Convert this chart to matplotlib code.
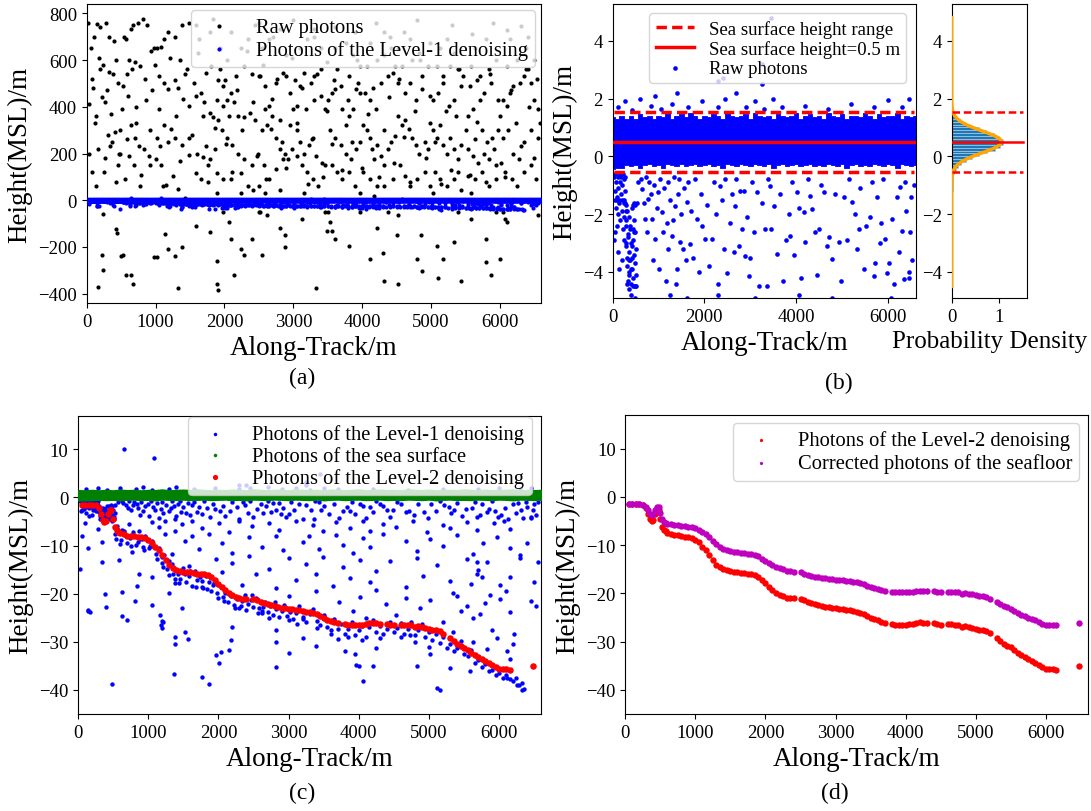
import numpy as np
import matplotlib
matplotlib.use("Agg")
import matplotlib.pyplot as plt

plt.rcParams['font.family'] = ['Liberation Serif', 'DejaVu Serif']
plt.rcParams['axes.unicode_minus'] = True

# ---------------- (a) raw photons (black) ----------------
raw_x = [
    20,60,110,150,190,240,280,330,380,430, 40,90,140,200,260,310,360,410,460,490, 30,80,130,170,220,270,320,370,420,470, 230,420,240,160,500,225,440,
    540,570,645,670,745,820,870,620,695,770, 975,520,595,720,490,920,1000,640,700,560, 610,760,830,900,950,680,590,850,940,780, 520,570,645,670,975,720,
    1025,1075,1125,1175,1280,1380,1480,1050,1125,1175, 1280,1330,1405,1480,1050,1125,1225,1280,1380,1480, 1075,1150,1250,1330,1430,1480,1025,1175,1350,1450, 1130,1175,1280,1330,1380,1020,
    1580,1660,1685,1785,1835,1885,1985,1605,1685,1735, 1785,1860,1910,1960,1580,1660,1760,1885,1985,1555, 1735,1810,1910,1985,1630,1785,1580,1835,1935,1885, 1580,1785,1885,1895,1905,1985,
    2040,2090,2140,2065,2190,2290,2370,2445,2040,2115, 2190,2290,2395,2470,2240,2340,2420,2090,2010,2165, 2290,2395,2495,2240,2340,2090,2445,2040,2240,2495, 2065,2090,2240,2290,2395,2495,2140,
    2520,2595,2645,2695,2750,2850,2900,2950,2545,2620, 2670,2750,2800,2875,2925,2975,2570,2645,2750,2850, 2595,2800,2950,3000,2545,2645,2800,2900,2595,2800, 2520,2545,2620,2875,2875,2800,
    3025,3100,3155,3255,3305,3405,3485,3050,3100,3155, 3230,3280,3330,3050,3130,3205,3280,3355,3430,3050, 3180,3305,3405,3460,3100,3205,3305,3405,3155,3460, 3130,3330,3460,3485,
    3510,3560,3610,3710,3760,3815,3865,3915,3965,3535, 3610,3685,3760,3840,3915,3965,3560,3635,3710,3815, 3890,3965,3585,3685,3815,3940,3610,3760,3865,3965, 3510,3535,3560,3610,3815,3965,
    4015,4065,4115,4140,4170,4220,4270,4320,4370,4420, 4470,4015,4115,4220,4320,4445,4040,4115,4195,4270, 4370,4445,4065,4220,4320,4470,4115,4320,4420,4170, 4115,4220,4295,4320,4370,
    4525,4575,4625,4675,4725,4775,4825,4905,4955,4525, 4625,4700,4775,4875,4980,4550,4625,4700,4800,4905, 4980,4575,4725,4875,4955,4525,4700,4825,4980,4575, 4525,4500,4800,4850,4875,4525,
    5030,5080,5130,5180,5230,5280,5330,5385,5435,5030, 5105,5180,5255,5330,5435,5055,5130,5230,5330,5435, 5080,5180,5280,5385,5460,5130,5230,5330,5030,5385, 5080,5105,5180,5330,5435,5385,
    5535,5610,5660,5735,5815,5890,5965,5535,5610,5685, 5765,5840,5940,5535,5635,5735,5840,5940,5560,5660, 5765,5865,5965,5585,5710,5840,5940,5635,5790,5585, 5790,5790,5865,5585,5940,
    6045,6095,6145,6195,6295,6350,6400,6450,6500,6550, 6045,6120,6195,6270,6350,6450,6550,6070,6170,6245, 6350,6450,6525,6095,6245,6375,6500,6145,6400,6010, 6045,6070,6095,5995,6550,
    2500,3000,3600,4200,4800,5300,5900,6300,2700,4600,5600,6100,3300,3900,4400,
]
raw_y = [
    760,650,700,755,740,580,760,700,540,600, 410,480,360,560,420,280,370,290,500,300, 200,120,60,220,440,180,550,250,80,200, -60,-125,-300,-370,-240,-235,-140,
    700,690,735,750,760,775,750,600,590,575, 650,490,445,400,200,150,175,320,265,90, 190,230,220,190,470,150,540,520,640,60, -235,-320,-320,-360,-245,-20,
    650,655,690,720,700,750,760,530,500,475, 515,480,435,405,390,320,305,265,235,195, 150,65,105,50,10,265,265,250,600,560, -145,-210,-240,-375,-200,-245,
    445,460,360,375,355,430,405,200,185,230, 175,220,345,300,115,90,150,115,90,500, 545,575,515,490,690,720,750,775,650,30, -110,-135,-260,-360,-385,-50,
    430,460,420,360,360,355,375,345,265,235, 200,175,150,190,115,60,45,90,515,530, 575,540,530,650,690,720,750,600,30,60, -95,-165,-210,-235,-165,-50,-320,
    530,490,405,435,500,545,530,460,300,320, 305,265,220,200,175,220,150,90,135,175, 390,345,320,390,650,690,735,620,30,45, -50,-235,-65,-150,-200,-120,
    515,490,545,500,530,560,590,300,250,200, 235,265,190,190,150,120,90,60,100,405, 390,430,445,390,650,690,735,650,30,150, -80,-375,-50,-130,
    430,460,475,390,320,360,390,475,460,300, 265,235,200,175,220,250,150,120,90,120, 60,30,515,490,530,500,650,675,620,575, -50,-95,-130,-165,-195,-50,
    320,300,265,220,175,235,190,150,220,250, 275,120,90,60,60,90,460,430,390,500, 530,545,575,600,620,575,675,720,650,20, -250,-120,-225,-345,-50,
    360,320,345,305,265,235,200,250,220,500, 460,500,430,475,445,150,105,60,90,120, 60,575,600,530,575,650,690,630,675,5, -65,-150,-250,-150,-305,-360,
    300,265,320,235,200,265,220,175,235,430, 460,500,405,430,490,120,90,60,90,45, 575,530,575,560,530,650,690,630,30,120, -195,-335,-250,-180,-345,-50,
    360,390,335,300,250,265,300,220,190,160, 200,175,150,105,90,120,60,90,490,515, 460,500,430,575,530,560,600,650,690,30, -165,-265,-320,-80,-50,
    430,405,460,490,500,530,560,500,430,390, 265,300,200,175,250,300,265,120,90,60, 120,150,90,575,600,650,600,690,700,160, -50,-80,-95,-250,-65,
    760,770,740,760,770,750,760,745,700,720,710,730,700,720,700,
]
raw2_x = [70,115,185,255,300,345,400,455,515,585, 655,710,790,860,915,990,1060,1110,1210,1300,
          1360,1420,1530,1610,1700,1760,1860,1930,2020,2110, 2180,2260,2330,2410,2480,2560,2610,2690,2770,2830,
          2890,2980,3060,3120,3210,3270,3340,3420,3490,3560, 3640,3700,3790,3850,3930,4000,4090,4160,4240,4310,
          4390,4460,4540,4610,4690,4760,4840,4920,4990,5060, 5150,5210,5290,5360,5410,5500,5560,5640,5710,5790,
          5860,5920,6000,6080,6160,6230,6310,6380,6420,6490, 6540,6580]
raw2_y = [520,330,610,120,470,230,680,150,390,260, 560,330,110,430,300,580,230,60,610,360,
          170,540,280,630,420,80,310,560,240,120, 470,300,640,420,200,580,90,360,520,250,
          140,610,330,480,70,260,540,160,380,240, 560,130,430,250,600,140,370,480,100,300,
          440,160,520,270,80,380,600,180,330,250, 70,380,130,360,560,300,110,260,430,80,
          540,220,360,100,470,330,230,560,400,180, 520,330]

# ---------------- sea-surface photon band (envelope) ----------------
surf_x = [0,100,200,300,400,500,600,700,800,900,
          1000,1100,1200,1300,1400,1500,1600,1700,1800,1900,
          2000,2100,2200,2300,2400,2500,2600,2700,2800,2900,
          3000,3100,3200,3300,3400,3500,3600,3700,3800,3900,
          4000,4100,4200,4300,4400,4500,4600,4700,4800,4900,
          5000,5100,5200,5300,5400,5500,5600,5700,5800,5900,
          6000,6100,6200,6300,6400,6500,6600]
surf_top = [1.35,1.30,1.40,1.30,1.40,1.30,1.45,1.35,1.40,1.30,
            1.40,1.35,1.50,1.30,1.40,1.45,1.35,1.50,1.40,1.30,
            1.40,1.35,1.45,1.40,1.30,1.50,1.40,1.35,1.40,1.45,
            1.30,1.50,1.40,1.35,1.40,1.30,1.45,1.40,1.35,1.40,
            1.50,1.30,1.40,1.45,1.35,1.40,1.30,1.50,1.40,1.35,
            1.45,1.30,1.40,1.40,1.35,1.50,1.40,1.30,1.45,1.35,
            1.40,1.40,1.50,1.30,1.40,1.35,1.40]
surf_bot = [-0.45,-0.40,-0.40,-0.30,-0.35,-0.30,-0.40,-0.30,-0.25,-0.35,
            -0.30,-0.40,-0.25,-0.30,-0.35,-0.25,-0.35,-0.30,-0.25,-0.35,
            -0.30,-0.25,-0.35,-0.30,-0.40,-0.25,-0.30,-0.35,-0.25,-0.30,
            -0.35,-0.25,-0.30,-0.35,-0.25,-0.40,-0.30,-0.25,-0.35,-0.30,
            -0.25,-0.35,-0.30,-0.25,-0.35,-0.30,-0.35,-0.25,-0.30,-0.35,
            -0.25,-0.40,-0.30,-0.25,-0.35,-0.30,-0.35,-0.25,-0.30,-0.35,
            -0.25,-0.30,-0.40,-0.25,-0.30,-0.35,-0.30]

# ---------------- Level-1 noise photons (blue) ----------------
shallow_x = [563,636,709,782,854,927,1000,1072,1181,1218, 1290,1363,1400,1472,1545,1618,1690,1763,1836,1945,
             2018,2163,2345,2418,2490,2600,2672,2745,2781,2890, 2926,2963,3035,3144,3326,3363,3435,3508,3581,3835,
             3872,3908,4017,4053,4162,4199,4308,4344,4489,4598, 4671,4780,4925,5034,5216,5288,5361,5470,5616,5689,
             5761,5856,5943,5979,6088,6197,6234,6270,6307,6343]
shallow_y = [-0.90,-1.13,-2.17,-1.48,-2.17,-2.86,-1.25,-1.94,-2.29,-3.21, -2.75,-1.71,-3.90,-2.98,-3.21,-1.59,-3.04,-3.50,-2.17,-2.40,
             -2.86,-2.86,-1.02,-3.21,-4.02,-1.31,-1.71,-3.09,-1.19,-3.44, -2.11,-4.13,-0.90,-1.25,-2.52,-4.48,-1.02,-1.71,-3.38,-2.00,
             -2.75,-0.90,-1.25,-1.77,-1.94,-2.98,-1.36,-1.82,-2.52,-1.25, -3.09,-3.55,-2.98,-1.42,-1.59,-2.00,-2.52,-3.90,-2.11,-4.13,
             -1.42,-2.29,-2.86,-4.02,-2.17,-1.42,-3.32,-1.07,-2.57,-4.25]
shallow2_x = [620,680,720,760,800,840,880,900,960,1010, 1040,1100,1130,1160,1200,1250,1320,1340,1380,1420,
              1450,1500,1560,1600,1650,1720,1800,1880,1920,2060, 2100,2200,2260,2300,2380,2450,2550,2640,2700,2820,
              2860,3000,3080,3200,3250,3380,3460,3650,3720,3780, 3950,4100,4250,4400,4450,4550,4720,4850,4980,5100,
              5150,5320,5400,5530,5650,5720,5820,5900,6020,6130, 6400,6450,6500,6530,6560,6480,6380]
shallow2_y = [-0.8,-1.6,-0.7,-2.6,-0.9,-1.3,-3.6,-1.0,-1.8,-3.9, -0.8,-2.6,-1.1,-4.3,-0.9,-1.5,-2.2,-0.7,-4.4,-1.3,
              -0.8,-2.0,-1.1,-3.6,-0.9,-1.9,-0.8,-4.0,-1.3,-1.7, -3.8,-0.9,-2.0,-4.4,-1.5,-0.8,-2.3,-3.3,-0.8,-2.5,
              -1.2,-3.5,-2.6,-4.5,-1.6,-0.8,-2.5,-1.3,-4.3,-2.9, -3.4,-4.2,-0.8,-2.6,-4.1,-1.0,-2.8,-1.3,-4.3,-2.9,
              -0.8,-3.2,-1.1,-2.4,-0.9,-3.7,-3.0,-0.8,-3.7,-4.4, -1.9,-4.2,-1.4,-3.6,-1.0,-2.6,-0.9]
left_x = [30,50,60,70,80,90,100,110,120,130, 140,150,160,170,180,190,200,210,220,230,
          240,250,260,270,280,290,40,110,150,200, 60,250]
left_y = [-0.7,-1.2,-0.6,-1.8,-0.9,-2.4,-1.4,-0.7,-2.0,-1.1, -0.6,-1.6,-2.2,-0.9,-1.3,-0.7,-1.9,-1.0,-2.5,-0.6,
          -1.5,-0.8,-2.1,-1.2,-0.7,-1.7,-2.9,-3.3,-3.9,-3.6, -2.6,-2.9]
column_x = [280,290,300,310,320,330,340,350,360,370, 380,390,400,410,420,430,440,450,460,470,
            480,490,500,510,520,290,310,330,350,370, 390,410,430,450,470,490,510,530,300,440]
column_y = [-1.6,-2.4,-3.1,-1.9,-3.8,-2.7,-4.3,-3.3,-2.1,-4.0, -3.6,-2.5,-4.4,-3.0,-1.8,-3.9,-2.9,-4.2,-3.4,-2.2,
            -4.5,-3.7,-2.6,-4.1,-3.2,-1.9,-4.4,-2.8,-3.6,-4.1, -2.4,-3.9,-3.1,-4.5,-1.6,-1.7,-4.5,-1.6,-3.0,-1.7]
above_x = [120,280,420,600,830,920,1050,1290,1400,1650, 1950,2300,2450,2700,2900,3100,3300,3500,3700,4200,
           4700,5200,5700,6000,6300,6450,2400,3250,3250,3450, 650,1080,2300]
above_y = [1.7,1.9,1.6,2.0,1.75,2.1,1.65,1.8,2.2,1.7, 1.9,1.7,2.0,2.2,1.7,1.9,1.65,2.0,1.7,1.75,
           1.65,1.8,1.7,1.95,1.7,2.0,2.7,3.2,2.5,4.8, 10.0,8.2,2.6]
deep_x = [29,148,172,482,339,396,625,696,840,863, 1054,1173,1207,1188,1388,1364,1569,1770,1865,1960,
          2032,2199,2175,2819,2819,
          100,291,482,625,720,863,1054,1150,1245,1388, 1484,1627,1770,2008,2151,2294,2485,2723,2866,3105,
          3343,3486,3677,3868,4059,4154,4345,4536,4775,4966, 5204,5300,5538,5681,5920,6063,6159,
          52,148,339,673,768,911,1054,1245,1340,1531, 1627,1722,1865,2056,2199,2437,2628,2819,2914,3200,
          3296,3439,3677,3773,3916,4059,4154,4345,4679,4823, 5013,5204,5395,5633,5776,5967,6158,6301,
          577,1054,1197,1388,1579,1770,1960,2056,2199,2342, 2437,2533,2723,2819,3010,3105,3248,3391,3486,3630,
          3773,3868,4011,4154,4250,4441,4679,4823,4918,5109, 5300,5538,5681,5824,6015,6158,
          148,386,625,816,1197,1293,1484,2628,3010,3200, 3391,3725,3916,4011,4107,4250,4393,4536,4679,4870,
          5013,5204,5347,5538,5729,5872,6015,6158,
          1197,1388,1531,2151,2819,3010,3200,3391,4250,4727, 5013,5347,5633,5824,5967,6110,6205,
          2008,3964,4059,4823,5109,5586,6110,6254,
          5150,4000,4200,3800,3950,5300,5630,5800,5900,6450, 6500,6550,6530,6200,6150,6100,6300,6400,6450,5690,
          5700,5750,5600,5400,5450]
deep_y = [-14.8,-23.5,-23.8,-38.7,-13.4,-22.8,-19.7,-25.5,-18.3,-15.8, -22.4,-24.5,-25.9,-26.6,-29.0,-36.6,-29.4,-37.3,-38.7,-32.8,
          -32.1,-26.9,-29.7,-30.0,-35.2,
          -5.2,-6.5,-4.9,-6.8,-5.5,-7.0,-5.0,-6.2,-4.8,-6.9, -5.6,-4.9,-6.4,-5.3,-7.1,-4.8,-6.0,-5.4,-6.7,-4.9,
          -5.8,-7.0,-5.1,-6.3,-4.8,-6.9,-5.5,-6.1,-4.9,-7.2, -5.7,-6.4,-5.0,-6.8,-5.3,-4.9,-6.6,
          -8.0,-10.5,-9.2,-7.8,-11.3,-8.6,-10.0,-7.5,-11.8,-9.0, -8.1,-10.7,-7.6,-9.5,-11.5,-8.3,-10.2,-7.9,-11.0,-9.3,
          -8.0,-10.8,-7.7,-9.9,-11.6,-8.4,-10.3,-7.5,-9.1,-11.2, -8.7,-10.0,-7.8,-11.7,-9.4,-8.2,-10.6,-12.0,
          -13.0,-16.5,-12.4,-17.8,-14.2,-18.6,-12.8,-15.5,-13.6,-18.2, -12.2,-16.0,-14.8,-18.9,-12.6,-17.1,-13.9,-15.8,-12.3,-18.4,
          -14.5,-16.8,-12.9,-17.6,-15.2,-13.3,-18.7,-12.5,-16.3,-14.0, -17.4,-12.7,-15.9,-13.5,-18.1,-16.6,
          -23.3,-20.1,-24.7,-21.5,-25.6,-19.8,-22.9,-24.1,-20.4,-25.3, -19.5,-21.8,-23.6,-20.7,-25.0,-19.3,-22.2,-24.5,-20.9,-23.0,
          -21.3,-25.8,-19.9,-22.6,-24.2,-20.3,-21.1,-23.8,
          -27.2,-30.5,-28.0,-31.7,-27.6,-32.4,-29.1,-30.8,-31.2,-28.6, -32.6,-27.9,-30.0,-31.5,-29.3,-32.0,-28.4,
          -34.5,-34.8,-38.2,-35.0,-39.5,-36.0,-37.5,-39.0,
          -40.0,-35.0,-35.0,-32.0,-32.5,-35.5,-25.0,-22.0,-27.5,-21.5, -17.5,-13.5,-22.5,-30.5,-33.5,-19.5,-12.5,-9.5,-4.0,-13.5,
          -15.0,-16.5,-18.0,-20.5,-23.5]
near_x = [520,560,610,650,700,740,790,830,880,920, 960,1010,1060,1110,1150,1190,1230,1270,1300,1340,
          1380,1420,1460,1500,1540,1580,1620,1660,1700,1740, 1780,1820,1860,1900,1940,1980,2020,2060,2100,2140,
          2180,2220,2260,2300,2340,2380,2420,2460,2500,2540, 2580,2620,2660,2700,2740,2780,2820,2860,2900,2940,
          2980,3020,3060,3100,3150,3200,3250,3300,3350,3400, 3450,3500,3550,3600,3650,3700,3750,3800,3850,3900,
          3950,4000,4050,4100,4150,4200,4250,4300,4350,4400, 4450,4500,4550,4600,4650,4700,4750,4800,4850,4900,
          4950,5000,5050,5100,5150,5200,5250,5300,5350,5400, 5450,5500,5550,5600,5650,5700,5750,5800,5850,5900,
          5950,6000,6050,6100,6150,6200,6240,6280,6320,6350, 6330,
          540,600,680,760,850,940,1030,1120,1210,1290, 1360,1440,1520,1600,1680,1760,1840,1920,2000,2080,
          2160,2240,2320,2400,2480,2560,2640,2720,2800,3000, 3120,3400,3600,3700,3850,4050,4300,4600,4800,5000]
near_y = [-7.5,-6.0,-8.8,-7.0,-9.5,-8.4,-7.2,-9.9,-8.6,-10.2, -8.0,-10.6,-9.0,-11.8,-10.4,-13.6,-12.0,-14.8,-16.2,-13.9,
          -17.0,-15.8,-16.9,-14.7,-17.5,-16.4,-18.3,-15.2,-17.1,-16.6, -18.8,-16.3,-17.6,-19.4,-17.8,-19.9,-18.4,-20.6,-19.8,-21.7,
          -20.5,-22.4,-21.2,-22.9,-21.6,-20.3,-22.2,-21.4,-22.8,-20.9, -22.9,-23.6,-21.7,-23.9,-22.6,-24.4,-23.2,-24.9,-23.5,-22.3,
          -24.6,-23.9,-25.3,-24.1,-22.6,-24.8,-25.9,-24.3,-23.1,-25.6, -26.4,-24.4,-26.9,-27.6,-25.2,-27.4,-26.2,-28.3,-27.3,-25.8,
          -28.6,-27.5,-26.8,-28.9,-27.0,-25.5,-27.9,-26.7,-28.4,-27.3, -25.8,-28.0,-27.1,-26.0,-28.3,-27.4,-25.9,-28.6,-27.6,-26.3,
          -28.9,-27.9,-29.6,-28.4,-30.3,-29.0,-31.2,-30.4,-32.0,-31.3, -29.8,-32.6,-33.0,-31.6,-34.3,-33.8,-35.2,-34.6,-36.0,-35.8,
          -36.9,-36.4,-37.5,-36.9,-37.8,-38.2,-37.6,-39.0,-38.6,-39.8, -40.0,
          -8.6,-9.6,-8.1,-10.1,-9.3,-11.0,-10.0,-12.8,-14.4,-13.3, -15.9,-17.7,-16.0,-15.3,-18.5,-17.4,-19.0,-18.2,-20.8,-21.5,
          -20.2,-23.0,-22.6,-23.4,-20.2,-24.0,-22.7,-25.0,-21.8,-25.5, -26.3,-27.2,-28.4,-29.4,-29.0,-29.6,-29.3,-29.0,-30.0,-31.0]

# ---------------- Level-2 seafloor photons and corrected seafloor ----------------
l2_x = [50,100,150,200,250,300,
        325,350,375,400,425,450,475,500,525,550,575,600,
        650,700,750,800,850,900,950,1000,1050,1100,1150,1200,1250,1300,1350,1400,1450,1500,
        1550,1600,1650,1700,1750,1800,1850,1900,1950,2000,2050,2100,2150,2200,2250,2300,2350,2400,
        2500,2550,2600,2650,2700,2750,2800,2850,2900,2950,3000,3050,3100,3150,3200,3250,3300,3350,
        3400,3450,3500,3550,3600,3650,3700,
        3800,3850,3900,3950,4000,4050,4100,4150,4200,4250,4300,
        4400,4450,4500,
        4600,4650,4700,4750,4800,4850,4900,4950,5000,5050,5100,5150,5200,
        5300,5350,5400,5450,5500,5550,5600,5650,5700,5750,5800,5850,5900,5950,6000,6050,6100,6150,
        6475]
l2_y = [-1.5,-1.5,-1.5,-1.5,-1.6,-2.2,
        -3.5,-4.6,-5.0,-4.8,-3.5,-2.5,-2.6,-4.5,-6.2,-6.8,-7.1,-7.4,
        -7.6,-7.9,-7.9,-8.1,-8.2,-8.3,-8.5,-8.9,-9.4,-10.3,-11.0,-12.0,-13.0,-14.0,-14.6,-15.0,-15.2,-15.4,
        -15.5,-15.5,-15.7,-15.8,-15.9,-16.0,-16.1,-16.5,-17.2,-17.9,-18.6,-19.3,-19.9,-20.3,-20.6,-20.9,-21.0,-21.0,
        -21.1,-21.4,-21.8,-22.0,-22.2,-22.4,-22.6,-22.8,-22.9,-23.0,-23.1,-23.2,-23.3,-23.4,-23.5,-23.7,-23.8,-24.0,
        -24.3,-24.7,-25.1,-25.4,-25.6,-25.9,-26.1,
        -26.3,-26.5,-26.6,-26.6,-26.5,-26.4,-26.3,-26.1,-26.0,-26.1,-26.2,
        -26.2,-26.4,-26.5,
        -26.4,-26.4,-26.5,-26.6,-26.9,-26.8,-27.0,-27.1,-27.4,-27.6,-27.6,-27.8,-28.3,
        -29.2,-29.8,-30.4,-30.8,-31.2,-31.8,-32.3,-32.8,-33.2,-33.6,-34.0,-34.4,-34.9,-35.3,-35.7,-35.6,-35.6,-35.8,
        -35.1]
corr_y = [-1.5,-1.5,-1.5,-1.5,-1.6,-2.0,
          -2.8,-3.5,-3.7,-3.5,-2.6,-2.0,-2.1,-3.4,-4.6,-5.1,-5.3,-5.5,
          -5.7,-5.9,-5.9,-6.0,-6.1,-6.2,-6.3,-6.5,-6.8,-7.2,-7.6,-8.3,-9.2,-9.8,-10.3,-10.7,-11.0,-11.3,
          -11.5,-11.5,-11.6,-11.7,-11.8,-11.9,-12.0,-12.3,-12.8,-13.2,-13.7,-14.1,-14.5,-14.8,-15.0,-15.3,-15.4,-15.5,
          -15.6,-15.9,-16.2,-16.3,-16.5,-16.6,-16.8,-16.9,-17.0,-17.1,-17.2,-17.2,-17.3,-17.4,-17.5,-17.6,-17.7,-17.9,
          -18.1,-18.4,-18.7,-18.9,-19.1,-19.3,-19.4,
          -19.6,-19.8,-19.8,-19.8,-19.7,-19.7,-19.6,-19.5,-19.4,-19.5,-19.5,
          -19.5,-19.7,-19.8,
          -19.7,-19.7,-19.7,-19.8,-20.1,-20.0,-20.2,-20.2,-20.4,-20.6,-20.6,-20.7,-21.1,
          -21.7,-22.2,-22.6,-22.9,-23.2,-23.7,-24.0,-24.4,-24.7,-25.0,-25.3,-25.6,-26.0,-26.3,-26.6,-26.5,-26.5,-26.6,
          -26.2]

# ---------------- (b) sea level, histogram, fitted density ----------------
sea_level = 0.5
range_top = 1.55
range_bot = -0.55
hist_y = [-1.95,-1.85,-1.75,-1.65,-1.55,-1.45,-1.35,-1.25,-1.15,-1.05,-0.95,-0.85,-0.75,-0.65,
          -0.55,-0.45,-0.35,-0.25,-0.15,-0.05,0.05,0.15,0.25,0.35,0.45,0.55,0.65,0.75,0.85,0.95,
          1.05,1.15,1.25,1.35,1.45,1.55]
hist_d = [0.01,0.01,0.01,0.01,0.015,0.01,0.015,0.015,0.02,0.02,0.02,0.025,0.03,0.035,
          0.05,0.08,0.13,0.20,0.30,0.43,0.58,0.75,0.90,1.02,1.08,1.07,1.00,0.88,0.73,0.57,
          0.41,0.28,0.17,0.10,0.05,0.025]
curve_y = [-4.5,-3.0,-2.0,-1.5,-1.0,-0.8,-0.6,-0.5,-0.4,-0.3,-0.2,-0.1,0.0,0.1,0.2,0.3,0.4,0.5,
           0.6,0.7,0.8,0.9,1.0,1.1,1.2,1.3,1.4,1.5,1.6,1.8,2.0,3.0,4.0,4.8]
curve_d = [0,0,0,0,0.0004,0.002,0.016,0.033,0.064,0.115,0.193,0.302,0.442,0.603,0.769,0.914,1.014,1.05,
           1.014,0.914,0.769,0.603,0.442,0.302,0.193,0.115,0.064,0.033,0.016,0.002,0.0004,0,0,0]

# ================== figure ==================
TICK = 13.5
LAB = 19.5
LEG = 14.8
W, H = 1091, 812
fig = plt.figure(figsize=(W / 100, H / 100), dpi=100)


def rect(l, t, r, b):
    return [l / W, 1 - b / H, (r - l) / W, (b - t) / H]


axA = fig.add_axes(rect(86.7, 5, 541.3, 304))
axB = fig.add_axes(rect(612.5, 5, 915.6, 299))
axH = fig.add_axes(rect(951.7, 5, 1026.7, 299))
axC = fig.add_axes(rect(78, 416.7, 541.3, 715))
axD = fig.add_axes(rect(625.4, 416, 1087.7, 715))

l1_x = np.concatenate([shallow_x, shallow2_x, left_x, column_x, above_x, deep_x, near_x])
l1_y = np.concatenate([shallow_y, shallow2_y, left_y, column_y, above_y, deep_y, near_y])

BLUE = '#0000ff'
XMAX = 6600

# ---- (a)
axA.scatter(np.concatenate([raw_x, raw2_x]), np.concatenate([raw_y, raw2_y]),
            s=9, c='black', linewidths=0, label='Raw photons', zorder=2)
axA.fill_between(surf_x, surf_bot, surf_top, color=BLUE, lw=4, zorder=3)
axA.scatter(l1_x, l1_y, s=9, c=BLUE, linewidths=0, zorder=3, label='Photons of the Level-1 denoising')
axA.scatter(l2_x, l2_y, s=9, c=BLUE, linewidths=0, zorder=3)
axA.set_xlim(0, XMAX)
axA.set_ylim(-440, 840)
axA.set_yticks([-400, -200, 0, 200, 400, 600, 800])
axA.set_xticks([0, 1000, 2000, 3000, 4000, 5000, 6000])
axA.legend(loc='upper right', fontsize=LEG, scatterpoints=1, framealpha=0.8,
           labelspacing=0.15, borderpad=0.35, borderaxespad=0.3)

# ---- (b)
x0, x1 = min(l1_x), max(l1_x)
axB.fill_between(surf_x, surf_bot, surf_top, step='mid', color=BLUE, lw=0.6, zorder=2)
hr = axB.scatter(l1_x, l1_y, s=11, c=BLUE, linewidths=0, zorder=2, label='Raw photons')
axB.scatter(l2_x, l2_y, s=11, c=BLUE, linewidths=0, zorder=2)
hd, = axB.plot([x0, x1], [range_top, range_top], color='red', lw=2.5, ls=(0, (3, 1.5)), zorder=4,
               label='Sea surface height range')
axB.plot([x0, x1], [range_bot, range_bot], color='red', lw=2.5, ls=(0, (3, 1.5)), zorder=4)
hs, = axB.plot([x0, x1], [sea_level, sea_level], color='red', lw=2.5, zorder=4,
               label='Sea surface height=0.5 m')
axB.set_xlim(0, XMAX)
axB.set_ylim(-4.9, 5.27)
axB.set_yticks([-4, -2, 0, 2, 4])
axB.set_xticks([0, 2000, 4000, 6000])
axB.legend(handles=[hd, hs, hr], loc='upper right', fontsize=13.5, scatterpoints=1, framealpha=0.8,
           labelspacing=0.1, borderpad=0.35)

axH.barh(hist_y, hist_d, height=0.1, color='#1f77b4', edgecolor='#b8d4ee', linewidth=0.4, zorder=2)
axH.plot(curve_d, curve_y, color='orange', lw=2.5, zorder=3)
axH.plot([0, 1.5], [range_top, range_top], color='red', lw=1.8, ls=(0, (3, 1.5)), zorder=4)
axH.plot([0, 1.5], [range_bot, range_bot], color='red', lw=1.8, ls=(0, (3, 1.5)), zorder=4)
axH.plot([0, 1.5], [sea_level, sea_level], color='red', lw=1.8, zorder=4)
axH.set_xlim(0, 1.575)
axH.set_ylim(-4.9, 5.27)
axH.set_yticks([-4, -2, 0, 2, 4])
axH.set_xticks([0, 1])

# ---- (c)
h1 = axC.scatter(l1_x, l1_y, s=10, c=BLUE, linewidths=0, zorder=2, label='Photons of the Level-1 denoising')
axC.fill_between(surf_x, surf_bot, surf_top, color='green', lw=2.2, zorder=3)
h2 = axC.scatter([], [], s=10, c='green', linewidths=0, label='Photons of the sea surface')
h3 = axC.scatter(l2_x, l2_y, s=22, c='red', linewidths=0, zorder=4, label='Photons of the Level-2 denoising')
axC.set_xlim(0, XMAX)
axC.set_ylim(-45, 17)
axC.set_yticks([-40, -30, -20, -10, 0, 10])
axC.set_xticks([0, 1000, 2000, 3000, 4000, 5000, 6000])
axC.legend(handles=[h1, h2, h3], loc='upper right', bbox_to_anchor=(0.979, 0.995), borderaxespad=0,
           fontsize=LEG, scatterpoints=1, framealpha=0.8, labelspacing=0.1, borderpad=0.35,
           markerscale=0.8)

# ---- (d)
axD.scatter(l2_x, l2_y, s=21, c='red', linewidths=0, zorder=3, label='Photons of the Level-2 denoising')
axD.scatter(l2_x, corr_y, s=21, c='#bf00bf', linewidths=0, zorder=3, label='Corrected photons of the seafloor')
axD.set_xlim(0, XMAX)
axD.set_ylim(-45, 17)
axD.set_yticks([-40, -30, -20, -10, 0, 10])
axD.set_xticks([0, 1000, 2000, 3000, 4000, 5000, 6000])
axD.legend(loc='upper right', fontsize=LEG, scatterpoints=1, framealpha=0.8,
           labelspacing=0.15, borderpad=0.35, borderaxespad=0.4, markerscale=0.5)

for ax in (axA, axB, axC, axD):
    ax.set_xlabel('Along-Track/m', fontsize=LAB)
    ax.set_ylabel('Height(MSL)/m', fontsize=LAB)
axH.set_xlabel('Probability Density', fontsize=18)
for ax in (axA, axB, axH, axC, axD):
    ax.tick_params(labelsize=TICK, direction='out', length=3.5)

fig.text(0.2768, 0.5345, '(a)', ha='center', va='center', fontsize=17)
fig.text(0.769, 0.528, '(b)', ha='center', va='center', fontsize=17)
fig.text(0.2768, 0.0234, '(c)', ha='center', va='center', fontsize=17)
fig.text(0.765, 0.0234, '(d)', ha='center', va='center', fontsize=17)

fig.savefig('out.png', dpi=100)
